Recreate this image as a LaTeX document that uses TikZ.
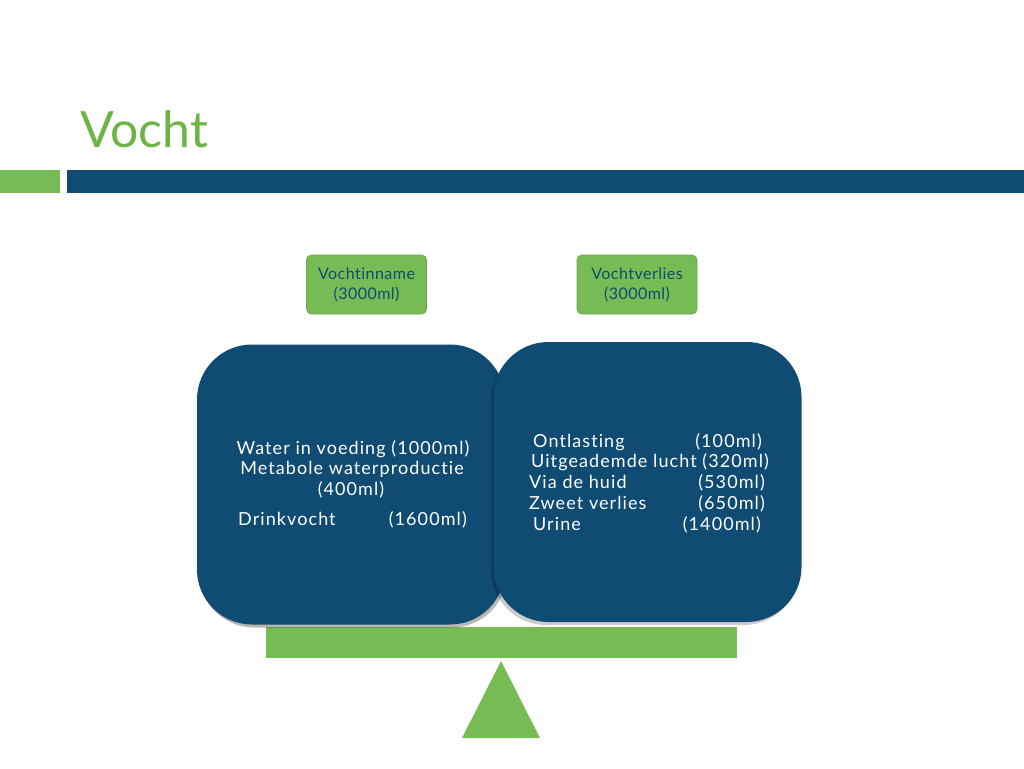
\documentclass[tikz,border=0pt]{standalone}
\usepackage{fontspec}
\setmainfont{Lato}[Ligatures={NoCommon}]
\definecolor{vgreen}{HTML}{77BB55}
\definecolor{tgreen}{HTML}{6CB544}
\definecolor{vblue}{HTML}{0F4B72}
\definecolor{vborder}{HTML}{6AA84A}
\tikzset{
  smallbox/.style={draw=vborder, line width=0.8pt, fill=vgreen, rounded corners=5pt,
    minimum width=120pt, minimum height=59pt, inner sep=0pt, align=center,
    text=vblue, font=\fontsize{16}{20}\selectfont\addfontfeatures{LetterSpace=3}},
  bigbox/.style={fill=vblue, rounded corners=55pt, minimum width=308pt,
    minimum height=280pt, inner sep=0pt},
  bigshadow/.style={fill=black, opacity=0.28, rounded corners=55pt, minimum width=308pt,
    minimum height=280pt, inner sep=0pt},
  boxtext/.style={text=white, inner sep=0pt, font=\fontsize{18}{21}\selectfont\addfontfeatures{LetterSpace=6}},
}
\begin{document}
\begin{tikzpicture}[x=1pt,y=-1pt]
\useasboundingbox (0,0) rectangle (1024,768);
\fill[white] (0,0) rectangle (1024,768);

% title and header bars
\node[anchor=base west, text=tgreen, inner sep=0pt, font=\fontsize{50}{60}\selectfont] (title) at (80,147) {Vocht};
\fill[vgreen] (0,170) rectangle (60,193);
\fill[vblue] (67,170) rectangle (1024,193);

% header boxes
\node[smallbox] (inname) at (366.5,284.5) {Vochtinname\\(3000ml)};
\node[smallbox] (verlies) at (637,284.5) {Vochtverlies\\(3000ml)};

% plank and fulcrum
\fill[vgreen] (266,627) rectangle (737,658);
\fill[vgreen] (501,661) -- (540,738) -- (462,738) -- cycle;

% big boxes with soft shadows
\node[bigshadow] (lshadow) at (353,487.5) {};
\node[bigbox] (left) at (351,484.5) {};
\node[bigshadow, opacity=0.2] (rshadow) at (645,485) {};
\node[bigbox] (right) at (647.5,482) {};

% left box text
\node[boxtext, anchor=base] (l1) at (353,454) {Water in voeding (1000ml)};
\node[boxtext, anchor=base] (l2) at (352,474) {Metabole waterproductie};
\node[boxtext, anchor=base] (l3) at (351,495) {(400ml)};
\node[boxtext, anchor=base west] (l4) at (238,525) {Drinkvocht};
\node[boxtext, anchor=base east] (l4v) at (467,525) {(1600ml)};

% right box text
\node[boxtext, anchor=base west] (r1) at (533,447) {Ontlasting};
\node[boxtext, anchor=base east] (r1v) at (762,447) {(100ml)};
\node[boxtext, anchor=base west] (r2) at (531,467) {Uitgeademde lucht (320ml)};
\node[boxtext, anchor=base west] (r3) at (529,488) {Via de huid};
\node[boxtext, anchor=base east] (r3v) at (765,488) {(530ml)};
\node[boxtext, anchor=base west] (r4) at (529,509) {Zweet verlies};
\node[boxtext, anchor=base east] (r4v) at (765,509) {(650ml)};
\node[boxtext, anchor=base west] (r5) at (533,530) {Urine};
\node[boxtext, anchor=base east] (r5v) at (761,530) {(1400ml)};
\end{tikzpicture}
\end{document}
